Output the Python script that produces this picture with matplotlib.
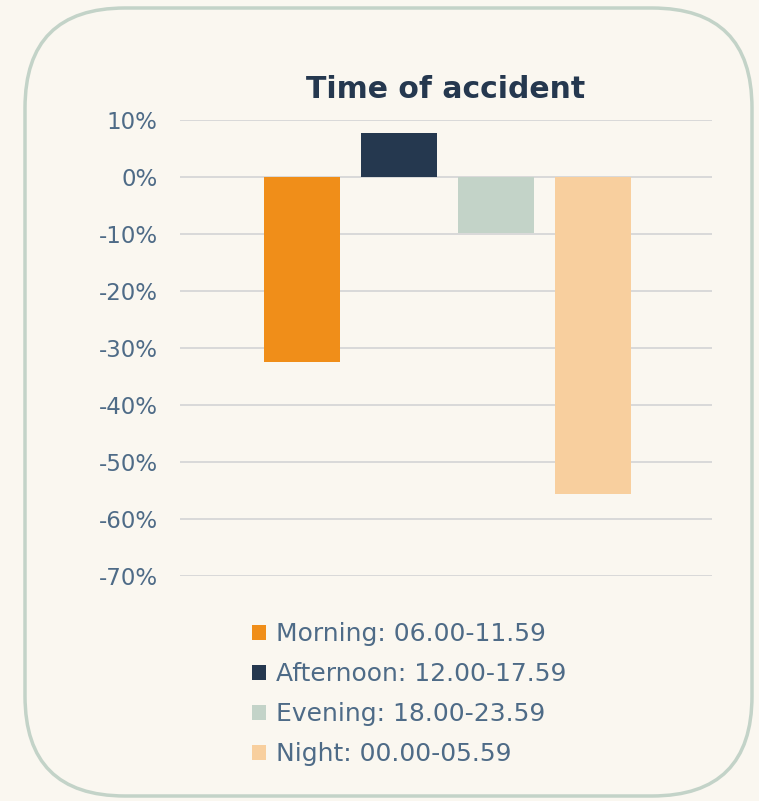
"""Time of accident: relative change by time-of-day band."""

import matplotlib.pyplot as plt
from matplotlib.patches import FancyBboxPatch
from matplotlib.ticker import FuncFormatter

categories = [
    "Morning: 06.00-11.59",
    "Afternoon: 12.00-17.59",
    "Evening: 18.00-23.59",
    "Night: 00.00-05.59",
]
values = [-32.5, 7.7, -9.8, -55.7]
colors = ["#f08e19", "#25384f", "#c3d3c8", "#f8cf9e"]
yticks = [10, 0, -10, -20, -30, -40, -50, -60, -70]

BG = "#faf7f0"
TEXT = "#4e6b87"

fig = plt.figure(figsize=(7.59, 8.01), dpi=100, facecolor=BG)

# rounded frame drawn in pixel-like coordinates
bg = fig.add_axes([0, 0, 1, 1], zorder=0)
bg.set_xlim(0, 759)
bg.set_ylim(801, 0)
bg.set_axis_off()
bg.add_patch(FancyBboxPatch(
    (25 + 100, 8 + 100), 727 - 200, 788 - 200,
    boxstyle="round,pad=100",
    facecolor=BG, edgecolor="#c3d3c8", linewidth=2.5,
))

ax = fig.add_axes([180 / 759, 1 - 576 / 801, 532 / 759, 456 / 801], zorder=1)
ax.set_facecolor("none")

for i, (v, c, lab) in enumerate(zip(values, colors, categories)):
    ax.bar(i, v, width=0.79, color=c, label=lab, zorder=2)

ax.set_ylim(-70, 10)
ax.set_xlim(-1.26, 4.23)
ax.set_yticks(yticks)
ax.yaxis.set_major_formatter(FuncFormatter(lambda v, _: f"{v:.0f}%"))
ax.set_xticks([])
ax.grid(axis="y", color="#d9d9d9", linewidth=1.4, zorder=1)
ax.tick_params(axis="y", length=0, pad=16, labelsize=16.5, labelcolor=TEXT)
for s in ax.spines.values():
    s.set_visible(False)

fig.text(446 / 759, 1 - 89 / 801, "Time of accident", ha="center", va="center",
         fontsize=21.5, fontweight="bold", color="#25384f")

ax.legend(
    loc="upper left", bbox_to_anchor=(252 / 759, 1 - 622 / 801),
    bbox_transform=fig.transFigure, frameon=False, fontsize=18,
    labelcolor=TEXT, handlelength=0.56, handleheight=0.56,
    handletextpad=0.4, labelspacing=0.64, borderpad=0, borderaxespad=0,
)

fig.savefig("out.png", dpi=100, facecolor=BG)
